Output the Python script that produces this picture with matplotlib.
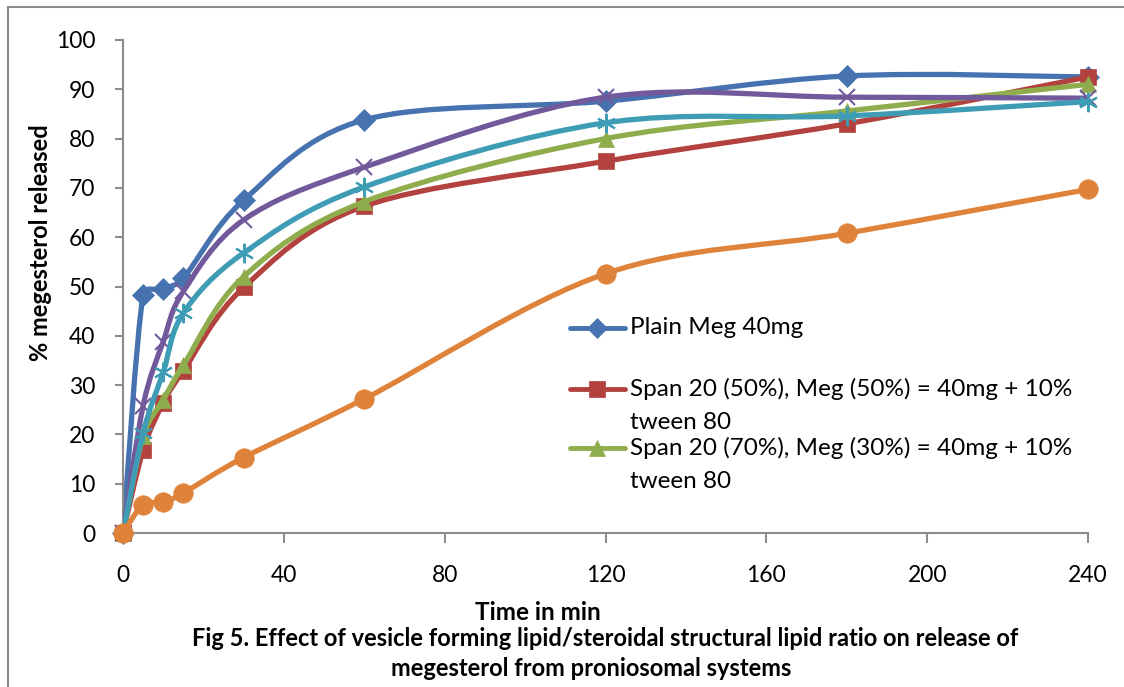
import numpy as np
import matplotlib
matplotlib.use('Agg')
import matplotlib.pyplot as plt
from matplotlib.path import Path
from matplotlib.patches import PathPatch, Rectangle
from matplotlib.lines import Line2D

plt.rcParams['font.family'] = ['Lato', 'DejaVu Sans']

# release data
time_min = [0, 5, 10, 15, 30, 60, 120, 180, 240]
plain_meg = [0, 48.3, 49.5, 51.7, 67.5, 83.8, 87.6, 92.7, 92.5]
span50 = [0, 16.8, 26.4, 32.9, 49.8, 66.3, 75.4, 83.0, 92.5]
span70 = [0, 19.6, 27.0, 34.0, 52.0, 67.2, 80.0, 85.6, 91.0]
series4 = [0, 25.8, 38.8, 49.0, 63.5, 74.2, 88.4, 88.4, 88.2]
series5 = [0, 20.3, 32.6, 44.6, 56.8, 70.2, 83.2, 84.6, 87.5]
series6 = [0, 5.7, 6.2, 8.1, 15.3, 27.2, 52.6, 60.8, 69.7]

labels = ["Plain Meg 40mg",
          "Span 20 (50%), Meg (50%) = 40mg + 10%\ntween 80",
          "Span 20 (70%), Meg (30%) = 40mg + 10%\ntween 80"]

# pixels per data unit, used only to size the smoothing arms
SX = 965 / 240.0
SY = 493 / 100.0


def smooth_path(x, y):
    # excel-like smoothed line: bezier segments, arms capped at half the segment
    pts = np.column_stack([x, y]).astype(float)
    scale = np.array([SX, SY])
    n = len(pts)
    verts = [pts[0]]
    codes = [Path.MOVETO]
    for i in range(n - 1):
        p0 = pts[max(i - 1, 0)]
        p1 = pts[i]
        p2 = pts[i + 1]
        p3 = pts[min(i + 2, n - 1)]
        d12 = np.hypot(*((p2 - p1) * scale))
        d02 = np.hypot(*((p2 - p0) * scale))
        d13 = np.hypot(*((p3 - p1) * scale))
        f1 = 1 / 6.0
        f2 = 1 / 6.0
        if d02 / 6.0 > d12 / 2.0 and d02 > 0:
            f1 = d12 / 2.0 / d02
        if d13 / 6.0 > d12 / 2.0 and d13 > 0:
            f2 = d12 / 2.0 / d13
        c1 = p1 + (p2 - p0) * f1
        c2 = p2 - (p3 - p1) * f2
        verts += [c1, c2, p2]
        codes += [Path.CURVE4] * 3
    return Path(verts, codes)


def draw_series(ax, y, color, marker, ms, mew=1.5, z=2):
    patch = PathPatch(smooth_path(time_min, y), facecolor='none', edgecolor=color,
                      lw=3.8, capstyle='round', joinstyle='round', zorder=z)
    ax.add_patch(patch)
    filled = marker in ('D', 's', '^', 'o')
    ax.plot(time_min, y, linestyle='none', marker=marker, ms=ms, clip_on=False,
            color=color, mec=color, mew=mew if not filled else 0.5, zorder=z + 0.5)


fig = plt.figure(figsize=(11.24, 6.87), dpi=100)
ax = fig.add_axes([123 / 1124, 1 - 533 / 687, 965 / 1124, 493 / 687])

colors = ['#4673AF', '#B3423F', '#8FAD4C', '#72599B', '#3F9CB5', '#E0833A']
draw_series(ax, plain_meg, colors[0], 'D', 11, z=2)
draw_series(ax, span50, colors[1], 's', 12, z=3)
draw_series(ax, span70, colors[2], '^', 12, z=4)
draw_series(ax, series4, colors[3], 'x', 12, z=5)
draw_series(ax, series5, colors[4], (6, 2, 0), 14, z=6)
draw_series(ax, series6, colors[5], 'o', 14, z=7)

ax.set_xlim(0, 240)
ax.set_ylim(0, 100)
ax.set_xticks(np.arange(0, 241, 40))
ax.set_yticks(np.arange(0, 101, 10))
for s in ['top', 'right']:
    ax.spines[s].set_visible(False)
for s in ['left', 'bottom']:
    ax.spines[s].set_color('#8c8c8c')
    ax.spines[s].set_linewidth(1.5)
ax.tick_params(axis='y', direction='out', length=6, width=1.5, color='#8c8c8c',
               labelsize=16.5, pad=14)
ax.tick_params(axis='x', direction='out', length=7, width=1.5, color='#8c8c8c',
               labelsize=16.5, pad=16)

# legend drawn by hand (only first three series are listed)
leg_y = [1 - (328 - 40) / 493, 1 - (389 - 40) / 493, 1 - (448 - 40) / 493]
for i in range(3):
    mk = ['D', 's', '^'][i]
    ax.add_line(Line2D([(570 - 123) / 965, (625 - 123) / 965], [leg_y[i]] * 2,
                       transform=ax.transAxes, color=colors[i], lw=3.5,
                       solid_capstyle='round', clip_on=False))
    ax.add_line(Line2D([(597 - 123) / 965], [leg_y[i]], transform=ax.transAxes,
                       marker=mk, ms=[10, 12, 12][i], color=colors[i], mew=0.5,
                       linestyle='none', clip_on=False))
    ax.text((630 - 123) / 965, leg_y[i] + 11 / 493, labels[i], transform=ax.transAxes,
            fontsize=17.5, va='top', ha='left', linespacing=1.7)

fig.text(40 / 1124, 1 - 243 / 687, "% megesterol released", rotation=90,
         ha='center', va='center', fontsize=17, fontweight='bold')
fig.text(538 / 1124, 1 - 612 / 687, "Time in min", ha='center', va='center',
         fontsize=17.5, fontweight='bold')
fig.text(605 / 1124, 1 - 639 / 687,
         "Fig 5. Effect of vesicle forming lipid/steroidal structural lipid ratio on release of",
         ha='center', va='center', fontsize=17, fontweight='bold')
fig.text(591 / 1124, 1 - 668 / 687, "megesterol from proniosomal systems",
         ha='center', va='center', fontsize=17, fontweight='bold')

# outer chart frame
fig.patches.append(Rectangle((8 / 1124, -0.05), 1.1, 1 - 7 / 687 + 0.05,
                             transform=fig.transFigure, fill=False,
                             edgecolor='#8c8c8c', lw=1.5))

fig.savefig("out.png", dpi=100)
